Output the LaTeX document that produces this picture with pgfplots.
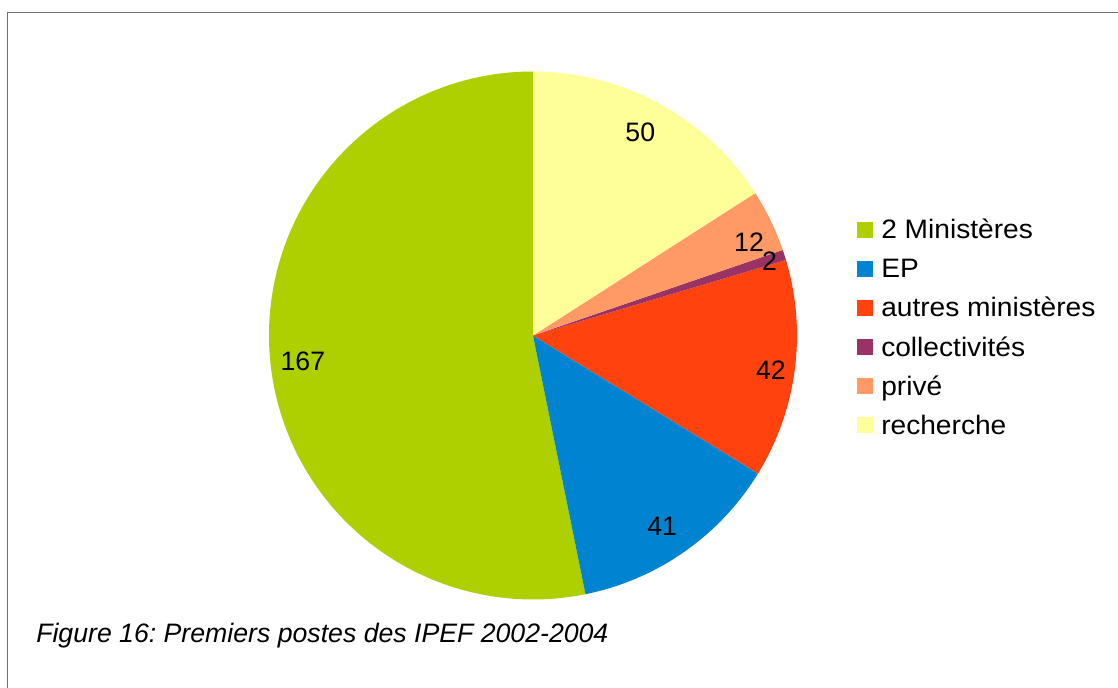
\documentclass[border=0pt]{standalone}
\usepackage{fontspec}
\setmainfont{Liberation Sans}
\newfontfamily\legfamily{Liberation Sans}[FakeStretch=1.055]
\usepackage{pgfplots}
\usepackage{pgfplotstable}
\pgfplotsset{compat=1.18}

% slice colours, in table order
\definecolor{slice0}{HTML}{AECF00}
\definecolor{slice1}{HTML}{0084D1}
\definecolor{slice2}{HTML}{FF420E}
\definecolor{slice3}{HTML}{993366}
\definecolor{slice4}{HTML}{FF9966}
\definecolor{slice5}{HTML}{FFFF99}
\definecolor{framegray}{HTML}{707070}

\newcommand\labelfont{\fontsize{20}{24}\selectfont}
\newcommand\legendfont{\legfamily\fontsize{20}{24}\selectfont}
\newcommand\captionfont{\fontsize{20}{24}\selectfont}

% lr = label radius (fraction of pie radius), lshift = label angle offset
\pgfplotstableread[col sep=comma]{
name,value,lr,lshift
2 Ministères,167,0.877,0.6
EP,41,0.874,-0.9
autres ministères,42,0.911,-0.85
collectivités,2,0.939,-0.3
privé,12,0.891,-2.5
recherche,50,0.872,0.9
}\pietable

\begin{document}
\frenchspacing
\begin{tikzpicture}[x=0.75pt,y=-0.75pt]
\useasboundingbox (0,0) rectangle (1118,688);
\draw[framegray, line width=1.1pt] (7.7,700) -- (7.7,12.3) -- (1130,12.3);
\coordinate (piecentre) at (533,335.5);

% total, slice angles and label positions
\pgfplotstablegetrowsof{\pietable}
\pgfmathtruncatemacro\lastrow{\pgfplotsretval-1}
\def\total{0}
\pgfplotsforeachungrouped \i in {0,...,\lastrow}{%
  \pgfplotstablegetelem{\i}{value}\of\pietable
  \pgfmathsetmacro\total{\total+\pgfplotsretval}}
\def\cum{90}
\pgfplotsforeachungrouped \i in {0,...,\lastrow}{%
  \pgfplotstablegetelem{\i}{value}\of\pietable
  \expandafter\let\csname val\i\endcsname\pgfplotsretval
  \pgfmathsetmacro\sweep{\pgfplotsretval/\total*360}
  \let\startang\cum
  \expandafter\let\csname sa\i\endcsname\cum
  \pgfmathsetmacro\cum{\cum+\sweep}
  \expandafter\let\csname ea\i\endcsname\cum
  \pgfplotstablegetelem{\i}{lr}\of\pietable \let\labr\pgfplotsretval
  \pgfplotstablegetelem{\i}{lshift}\of\pietable \let\labs\pgfplotsretval
  \pgfmathsetmacro\midang{(\startang+\cum)/2+\labs}
  \pgfmathsetmacro\tmpx{\labr*cos(\midang)}
  \pgfmathsetmacro\tmpy{\labr*sin(\midang)}
  \expandafter\let\csname lx\i\endcsname\tmpx
  \expandafter\let\csname ly\i\endcsname\tmpy
}

\begin{axis}[at={(piecentre)}, anchor=center,
  width=396pt, height=396pt, scale only axis,
  xmin=-1, xmax=1, ymin=-1, ymax=1,
  hide axis, clip=false]
  \def\R{198pt}
  \pgfplotsforeachungrouped \i in {0,...,\lastrow}{%
    \edef\slice{\noexpand\fill[slice\i] (axis cs:0,0) -- ++(\csname sa\i\endcsname:\R)
      arc[start angle=\csname sa\i\endcsname, end angle=\csname ea\i\endcsname, radius=\R] -- cycle;}%
    \slice}
  \pgfplotsforeachungrouped \i in {0,...,\lastrow}{%
    \edef\lab{\noexpand\node[font=\noexpand\labelfont, inner sep=0pt]
      at (axis cs:\csname lx\i\endcsname,\csname ly\i\endcsname) {\csname val\i\endcsname};}%
    \lab}
\end{axis}

% legend
\pgfplotsforeachungrouped \i in {0,...,\lastrow}{%
  \pgfplotstablegetelem{\i}{name}\of\pietable \let\legname\pgfplotsretval
  \pgfmathsetmacro\legy{229.7+39.1*\i}
  \fill[slice\i] (857,\legy-8) rectangle ++(16,16);
  \node[anchor=base west, inner sep=0pt, font=\legendfont] at (881,\legy+9) {\legname};
}

\node[anchor=base west, inner sep=0pt, font=\captionfont\itshape] at (36,642)
  {Figure 16: Premiers postes des IPEF 2002-2004};
\end{tikzpicture}
\end{document}
